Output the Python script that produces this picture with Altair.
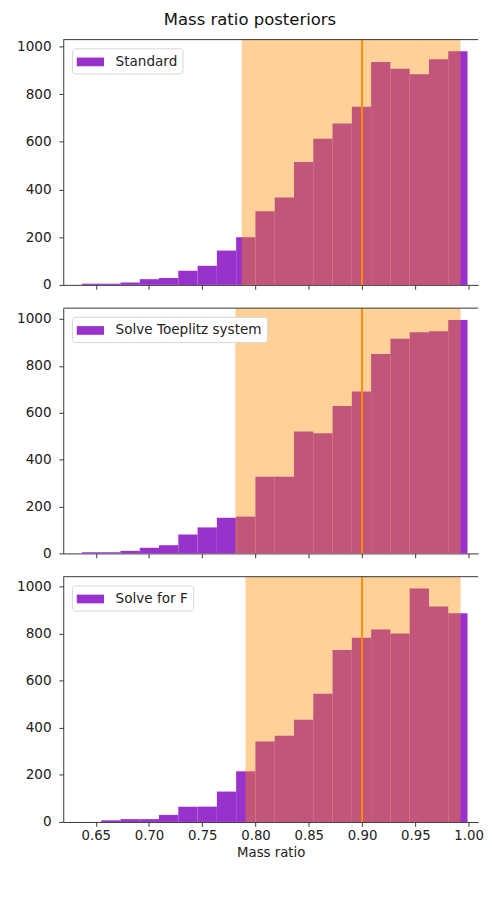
import altair as alt
import pandas as pd

# ---- data ----
bin_edges = [0.637, 0.6551, 0.6732, 0.6913, 0.7094, 0.7275, 0.7456, 0.7637,
             0.7818, 0.7999, 0.8180, 0.8361, 0.8542, 0.8723, 0.8904, 0.9085,
             0.9266, 0.9447, 0.9628, 0.9809, 0.999]
standard_counts = [5, 5, 10, 24, 29, 59, 80, 144, 200, 309, 367, 516, 613, 677,
                   747, 935, 907, 884, 947, 980]
toeplitz_counts = [5, 5, 11, 24, 35, 81, 111, 152, 157, 327, 327, 520, 513, 629,
                   691, 850, 915, 943, 948, 996]
solve_f_counts = [0, 7, 12, 12, 30, 65, 65, 129, 215, 341, 366, 434, 544, 730,
                  782, 817, 800, 991, 915, 886]
labels = ["Standard", "Solve Toeplitz system", "Solve for F"]
span_lo = [0.787, 0.781, 0.7906]
span_hi = [0.9924, 0.9925, 0.9925]
true_ratio = 0.9
y_max = [1029, 1046, 1041]
x_ticks = [0.65, 0.70, 0.75, 0.80, 0.85, 0.90, 0.95, 1.00]
y_ticks = [0, 200, 400, 600, 800, 1000]
x_domain = [0.6195, 1.0090]

FONT = "DejaVu Sans"
PURPLE = "#9932CC"
ORANGE = "#FF8C00"
AXC = "#333333"
W, H = 428, 253

all_counts = [standard_counts, toeplitz_counts, solve_f_counts]


def panel(i):
    counts = all_counts[i]
    df = pd.DataFrame({
        "start": bin_edges[:-1],
        "end": bin_edges[1:],
        "count": counts,
        "label": [labels[i]] * len(counts),
    })
    bottom = i == 2
    xaxis = alt.Axis(
        values=x_ticks, format=".2f", labels=bottom, ticks=True, tickSize=4.5,
        grid=False, domainColor=AXC, tickColor=AXC, labelFont=FONT,
        labelFontSize=13.7, labelColor="#222", labelPadding=3,
        title="Mass ratio" if bottom else None, titleFont=FONT,
        titleFontSize=13.7, titleFontWeight="normal", titleColor="#222",
        titlePadding=3,
    )
    yaxis = alt.Axis(
        values=y_ticks, format="d", grid=False, tickSize=4.5, domainColor=AXC,
        tickColor=AXC, labelFont=FONT, labelFontSize=14, labelColor="#222",
        labelPadding=8, title=None,
    )
    xs = alt.Scale(domain=x_domain, nice=False, zero=False)
    ys = alt.Scale(domain=[0, y_max[i]], nice=False)

    bars = alt.Chart(df).mark_rect(stroke=None).encode(
        x=alt.X("start:Q", scale=xs, axis=xaxis),
        x2="end:Q",
        y=alt.Y("count:Q", scale=ys, axis=yaxis),
        y2=alt.datum(0),
        color=alt.Color(
            "label:N",
            scale=alt.Scale(range=[PURPLE]),
            legend=alt.Legend(
                orient="top-left", offset=9, title=None, fillColor="white",
                strokeColor="#d6d6d6", cornerRadius=3, padding=5,
                symbolType="M-1.56,-0.5H1.56V0.5H-1.56Z", symbolSize=324,
                symbolStrokeWidth=0, symbolOffset=5, labelOffset=17,
                labelFont=FONT, labelFontSize=14, labelColor="#222",
            ),
        ),
    )
    span_df = pd.DataFrame({"lo": [span_lo[i]], "hi": [span_hi[i]]})
    span = alt.Chart(span_df).mark_rect(color=ORANGE, opacity=0.4).encode(
        x="lo:Q", x2="hi:Q", y=alt.datum(y_max[i]), y2=alt.datum(0)
    )
    rule_df = pd.DataFrame({"v": [true_ratio]})
    rule = alt.Chart(rule_df).mark_rule(color=ORANGE, strokeWidth=2).encode(
        x="v:Q"
    )
    top_df = pd.DataFrame({"t": [y_max[i]]})
    top = alt.Chart(top_df).mark_rule(color=AXC, strokeWidth=1).encode(y="t:Q")
    return alt.layer(bars, span, rule, top).properties(width=W, height=H)


chart = alt.vconcat(panel(0), panel(1), panel(2), spacing=16).resolve_scale(
    color="independent"
).properties(
    title=alt.TitleParams(
        "Mass ratio posteriors", font=FONT, fontSize=17, fontWeight="normal",
        color="#111", anchor="middle", offset=10,
    ),
    padding={"top": -10, "left": 8, "right": 0, "bottom": 0},
).configure_view(stroke=None)

chart.save("out.html", embed_options={"renderer": "svg", "actions": False})
